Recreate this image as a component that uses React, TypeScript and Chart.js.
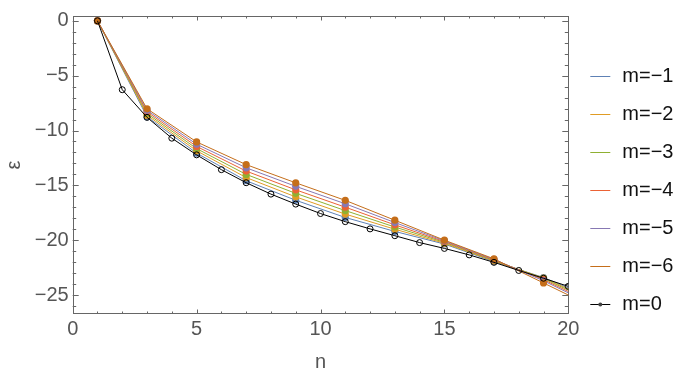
import React, { useEffect, useRef } from "react";
import { Chart, registerables } from "chart.js";

Chart.register(...registerables);

// ---- data ----
const nAll = [1, 2, 3, 4, 5, 6, 7, 8, 9, 10, 11, 12, 13, 14, 15, 16, 17, 18, 19, 20];
const nOdd = [1, 3, 5, 7, 9, 11, 13, 15, 17, 19, 21];

const mMinus1 = [0, -8.75, -12.06, -14.58, -16.36, -17.93, -19.2, -20.35, -21.95, -23.4, -25.3];
const mMinus2 = [0, -8.6, -11.85, -14.29, -16.05, -17.62, -19.0, -20.28, -21.9, -23.45, -25.45];
const mMinus3 = [0, -8.45, -11.65, -14.0, -15.73, -17.3, -18.8, -20.2, -21.85, -23.5, -25.6];
const mMinus4 = [0, -8.3, -11.45, -13.7, -15.41, -16.99, -18.6, -20.13, -21.8, -23.6, -25.75];
const mMinus5 = [0, -8.16, -11.25, -13.4, -15.09, -16.68, -18.39, -20.06, -21.75, -23.7, -25.9];
const mMinus6 = [0, -8.02, -11.04, -13.11, -14.77, -16.37, -18.18, -20.0, -21.7, -23.9, -26.1];
const mZero = [0, -6.28, -8.8, -10.7, -12.22, -13.57, -14.76, -15.8, -16.71, -17.57, -18.31, -18.97, -19.59, -20.22, -20.75, -21.34, -22.02, -22.76, -23.47, -24.21];

const seriesLabels = ["m=\u22121", "m=\u22122", "m=\u22123", "m=\u22124", "m=\u22125", "m=\u22126", "m=0"];
const seriesColors = ["#5E81B5", "#E09C24", "#8FB032", "#EB6235", "#8778B3", "#C56E1A", "#000000"];

const xTickValues = [0, 5, 10, 15, 20];
const yTickValues = [0, -5, -10, -15, -20, -25];
const xRange = [0, 20];
const yRange = [-26.73, 0.44];

const FONT = "'Liberation Sans', Arial, sans-serif";
const GRAY = "#666666";
const LABEL = "#555555";

const fmt = (v: number) => (v < 0 ? "\u2212" + Math.abs(v) : String(v));

const framePlugin = {
  id: "frameTicks",
  beforeDatasetsDraw(chart: any) {
    const { ctx, chartArea: a, scales } = chart;
    const xs = scales.x;
    const ys = scales.y;
    ctx.save();
    ctx.strokeStyle = GRAY;
    ctx.lineWidth = 1;
    ctx.strokeRect(Math.round(a.left) + 0.5, Math.round(a.top) + 0.5, Math.round(a.right - a.left) - 1, Math.round(a.bottom - a.top) - 1);
    ctx.beginPath();
    for (let v = Math.ceil(yRange[0]); v <= Math.floor(yRange[1]); v++) {
      const len = v % 5 === 0 ? 6 : 3.5;
      const y = Math.round(ys.getPixelForValue(v)) + 0.5;
      ctx.moveTo(a.left, y);
      ctx.lineTo(a.left + len, y);
      ctx.moveTo(a.right, y);
      ctx.lineTo(a.right - len, y);
    }
    for (let v = xRange[0]; v <= xRange[1]; v++) {
      const len = v % 5 === 0 ? 4.5 : 2.5;
      const x = Math.round(xs.getPixelForValue(v)) + 0.5;
      ctx.moveTo(x, a.bottom);
      ctx.lineTo(x, a.bottom - len);
      ctx.moveTo(x, a.top);
      ctx.lineTo(x, a.top + len);
    }
    ctx.stroke();
    ctx.restore();
  },
  afterDraw(chart: any) {
    const { ctx, chartArea: a } = chart;
    ctx.save();
    const x0 = a.right + 22;
    const y0 = a.top + 60;
    const step = 38;
    chart.data.datasets.forEach((ds: any, i: number) => {
      const y = Math.round(y0 + i * step) + 0.5;
      ctx.strokeStyle = ds.borderColor;
      ctx.lineWidth = 1;
      ctx.beginPath();
      ctx.moveTo(x0, y);
      ctx.lineTo(x0 + 20, y);
      ctx.stroke();
      if (i === chart.data.datasets.length - 1) {
        ctx.fillStyle = "#444";
        ctx.beginPath();
        ctx.arc(x0 + 10, y, 2, 0, Math.PI * 2);
        ctx.fill();
      }
      ctx.fillStyle = "#111111";
      ctx.font = `20px ${FONT}`;
      ctx.textBaseline = "middle";
      ctx.textAlign = "left";
      ctx.fillText(ds.label, x0 + 32, y);
    });
    ctx.restore();
  },
};

export default function App() {
  const ref = useRef<HTMLCanvasElement | null>(null);
  useEffect(() => {
    if (!ref.current) return;
    const colored = [mMinus1, mMinus2, mMinus3, mMinus4, mMinus5, mMinus6];
    const datasets: any[] = colored.map((vals, i) => ({
      label: seriesLabels[i],
      data: nOdd.map((n, k) => ({ x: n, y: vals[k] })),
      borderColor: seriesColors[i],
      backgroundColor: seriesColors[i],
      borderWidth: 1,
      pointRadius: 3.6,
      pointBorderWidth: 0,
      pointBackgroundColor: seriesColors[i],
      order: 6 - i,
    }));
    datasets.push({
      label: seriesLabels[6],
      data: nAll.map((n, k) => ({ x: n, y: mZero[k] })),
      borderColor: seriesColors[6],
      backgroundColor: "rgba(0,0,0,0)",
      borderWidth: 1,
      pointRadius: 3,
      pointBorderWidth: 1,
      pointBorderColor: "#000",
      pointBackgroundColor: "rgba(0,0,0,0)",
      order: 0,
    });
    const chart = new Chart(ref.current, {
      type: "line",
      data: { datasets },
      plugins: [framePlugin],
      options: {
        animation: false,
        responsive: false,
        devicePixelRatio: 1,
        layout: { padding: { top: 8.3, right: 113.7, left: 0, bottom: 0 } },
        plugins: { legend: { display: false }, tooltip: { enabled: false } },
        scales: {
          x: {
            type: "linear",
            min: xRange[0],
            max: xRange[1],
            grid: { display: false, drawTicks: false },
            border: { display: false },
            afterBuildTicks: (s: any) => { s.ticks = xTickValues.map((v) => ({ value: v })); },
            afterFit: (s: any) => { s.height = 61; },
            ticks: { color: LABEL, font: { family: FONT, size: 20 }, padding: 3, maxRotation: 0, autoSkip: false, callback: (v: any) => fmt(Number(v)) },
            title: { display: true, text: "n", color: LABEL, font: { family: FONT, size: 20 }, padding: { top: 0, bottom: 1 } },
          },
          y: {
            type: "linear",
            min: yRange[0],
            max: yRange[1],
            grid: { display: false, drawTicks: false },
            border: { display: false },
            afterBuildTicks: (s: any) => { s.ticks = yTickValues.map((v) => ({ value: v })); },
            afterFit: (s: any) => { s.width = 72.7; },
            ticks: { color: LABEL, font: { family: FONT, size: 20 }, padding: 4, autoSkip: false, callback: (v: any) => fmt(Number(v)) },
            title: { display: true, text: "\u03b5", color: LABEL, font: { family: FONT, size: 20 }, padding: { top: 2, bottom: 0 } },
          },
        },
      } as any,
    });
    return () => chart.destroy();
  }, []);
  return (
    <div style={{ position: "fixed", left: 0, top: 0, width: 682, height: 375, background: "#fff" }}>
      <canvas ref={ref} width={682} height={375} style={{ display: "block" }} />
    </div>
  );
}
